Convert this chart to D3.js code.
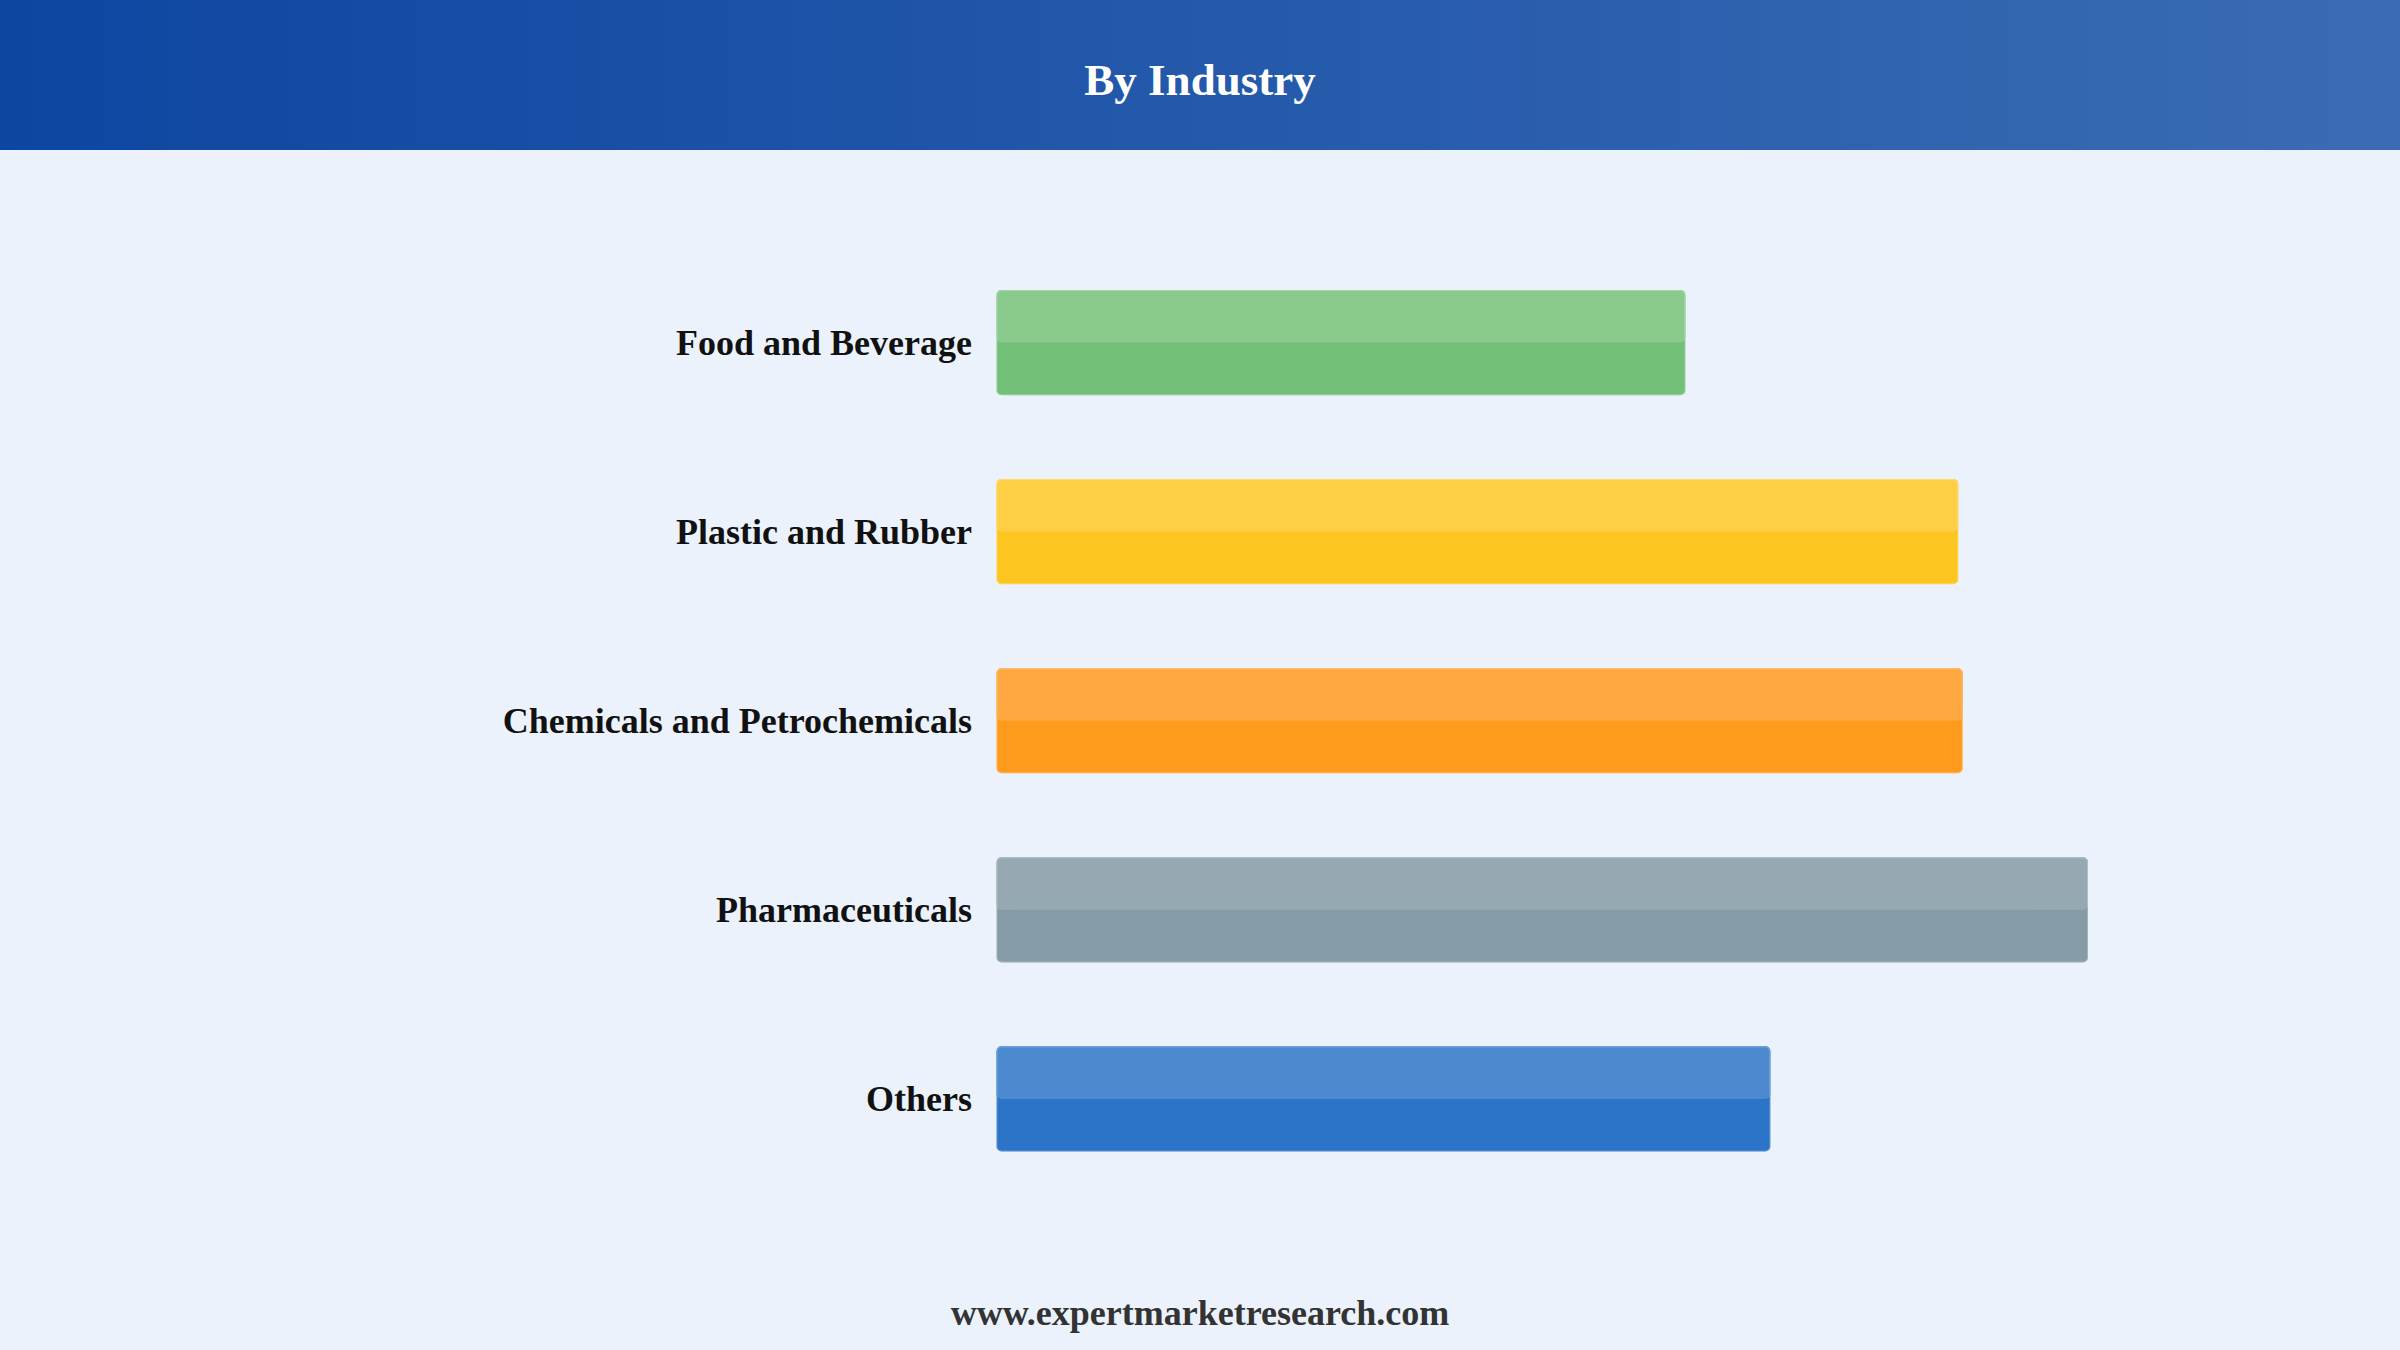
<!DOCTYPE html>
<html>
<head>
<meta charset="utf-8">
<script src="https://cdn.jsdelivr.net/npm/d3@7"></script>
<style>
	html, body { margin: 0; padding: 0; background: #ebf2fc; }
	svg { display: block; }
</style>
</head>
<body>
<div id="chart"></div>
<script>

	// data
	const industries = ["Food and Beverage", "Plastic and Rubber", "Chemicals and Petrochemicals", "Pharmaceuticals", "Others"];
	const shares = [15.4, 21.5, 21.6, 24.4, 17.3];
	const baseColors = ["#72bf78", "#fdc520", "#fe9b1d", "#859ca6", "#2c74c7"];
	const topColors = ["#8aca8c", "#fecf44", "#ffa842", "#96a9b2", "#4c89cf"];

	const rows = industries.map((name, i) => ({name, value: shares[i], base: baseColors[i], top: topColors[i]}));

	// set up
	const w = 2400;
	const h = 1350;

	const svg = d3.select("#chart")
		.append("svg")
		.attr("width", w)
		.attr("height", h);

	// header gradient
	const grad = svg.append("defs")
		.append("linearGradient")
		.attr("id", "hdr")
		.attr("x1", "0%").attr("x2", "100%");
	grad.append("stop").attr("offset", "0%").attr("stop-color", "#0d46a1");
	grad.append("stop").attr("offset", "100%").attr("stop-color", "#3b6bb4");

	svg.append("rect")
		.attr("width", w)
		.attr("height", h)
		.attr("fill", "#ebf2fc");

	svg.append("rect")
		.attr("width", w)
		.attr("height", 150)
		.attr("fill", "url(#hdr)");

	svg.append("text")
		.attr("x", w/2)
		.attr("y", 95)
		.attr("text-anchor", "middle")
		.attr("fill", "#ffffff")
		.style("font", "bold 45px 'Liberation Serif', 'Times New Roman', serif")
		.text("By Industry");

	// scales
	const x = d3.scaleLinear()
		.domain([0, d3.max(shares)])
		.range([996.5, 2088]);

	const y = d3.scaleBand()
		.domain(industries)
		.range([290, 1151.5])
		.paddingInner(0.444)
		.paddingOuter(0);

	const bh = y.bandwidth();

	const bars = svg.selectAll(".bar")
		.data(rows)
		.enter()
		.append("g")
		.attr("class", "bar");

	bars.append("rect")
		.attr("x", x(0))
		.attr("y", d => y(d.name))
		.attr("width", d => x(d.value) - x(0))
		.attr("height", bh)
		.attr("rx", 5)
		.attr("fill", d => d.base);

	bars.append("rect")
		.attr("x", x(0))
		.attr("y", d => y(d.name))
		.attr("width", d => x(d.value) - x(0))
		.attr("height", bh/2)
		.attr("rx", 5)
		.attr("fill", d => d.top);

	bars.append("rect")
		.attr("x", x(0) + 0.5)
		.attr("y", d => y(d.name) + 0.5)
		.attr("width", d => x(d.value) - x(0) - 1)
		.attr("height", bh - 1)
		.attr("rx", 5)
		.attr("fill", "none")
		.attr("stroke", "#ffffff")
		.attr("stroke-opacity", 0.25)
		.attr("stroke-width", 1);

	// labels
	bars.append("text")
		.attr("x", 972)
		.attr("y", d => y(d.name) + bh/2 + 12)
		.attr("text-anchor", "end")
		.attr("fill", "#111111")
		.style("font", "bold 36px 'Liberation Serif', 'Times New Roman', serif")
		.text(d => d.name);

	// footer
	svg.append("text")
		.attr("x", w/2)
		.attr("y", 1325)
		.attr("text-anchor", "middle")
		.attr("fill", "#333333")
		.style("font", "bold 36px 'Liberation Serif', 'Times New Roman', serif")
		.text("www.expertmarketresearch.com");

</script>
</body>
</html>
